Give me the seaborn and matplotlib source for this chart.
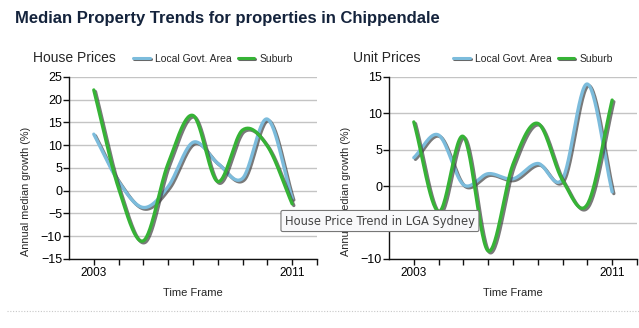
import numpy as np
import pandas as pd
import matplotlib
matplotlib.use("Agg")
import matplotlib.pyplot as plt
import matplotlib.patheffects as pe
from matplotlib.lines import Line2D
import seaborn as sns

years = [2003, 2004, 2005, 2006, 2007, 2008, 2009, 2010, 2011]
house_lga = [12.4, 2.0, -3.7, 0.9, 10.6, 6.0, 2.7, 15.7, -1.7]
house_suburb = [22.1, 0.5, -11.0, 6.0, 16.5, 2.0, 13.3, 9.8, -2.9]
unit_lga = [3.9, 7.0, 0.2, 1.7, 1.0, 3.1, 1.0, 14.0, -0.8]
unit_suburb = [8.8, -3.5, 6.8, -8.9, 3.0, 8.6, 0.8, -2.5, 11.8]
series_names = ["Local Govt. Area", "Suburb"]
panel_titles = ["House Prices", "Unit Prices"]
title = "Median Property Trends for properties in Chippendale"
tooltip = "House Price Trend in LGA Sydney"

C_LGA = "#7cbcdc"
C_SUB = "#36b336"


def spline(xs, ys, n=30, tension=0.5):
    """Cardinal spline through the data points (display smoothing only)."""
    xs = np.asarray(xs, float)
    ys = np.asarray(ys, float)
    px = np.concatenate([[2 * xs[0] - xs[1]], xs, [2 * xs[-1] - xs[-2]]])
    py = np.concatenate([[2 * ys[0] - ys[1]], ys, [2 * ys[-1] - ys[-2]]])
    ox, oy = [], []
    t = np.linspace(0, 1, n, endpoint=False)
    for i in range(1, len(px) - 2):
        m1x = tension * (px[i + 1] - px[i - 1]); m2x = tension * (px[i + 2] - px[i])
        m1y = tension * (py[i + 1] - py[i - 1]); m2y = tension * (py[i + 2] - py[i])
        h00 = 2 * t**3 - 3 * t**2 + 1; h10 = t**3 - 2 * t**2 + t
        h01 = -2 * t**3 + 3 * t**2; h11 = t**3 - t**2
        ox.append(h00 * px[i] + h10 * m1x + h01 * px[i + 1] + h11 * m2x)
        oy.append(h00 * py[i] + h10 * m1y + h01 * py[i + 1] + h11 * m2y)
    ox.append([xs[-1]]); oy.append([ys[-1]])
    return np.concatenate(ox), np.concatenate(oy)


sns.set_theme(style="white")
plt.rcParams["font.family"] = ["Liberation Sans", "DejaVu Sans"]

fig = plt.figure(figsize=(6.39, 3.28), dpi=100)
fig.patch.set_facecolor("white")

panels = [
    (house_lga, house_suburb, (-15, 25), [0.108, 0.2104, 0.388, 0.5556]),
    (unit_lga, unit_suburb, (-10, 15), [0.6088, 0.2104, 0.3880, 0.5556]),
]

shadow = [pe.SimpleLineShadow(offset=(1.2, -1.2), shadow_color="#404040", alpha=0.7), pe.Normal()]
shadow_leg = [pe.SimpleLineShadow(offset=(0.8, -0.8), shadow_color="#404040", alpha=0.8), pe.Normal()]

for k, (lga, sub, ylim, rect) in enumerate(panels):
    ax = fig.add_axes(rect)
    for vals, name, col in [(lga, series_names[0], C_LGA), (sub, series_names[1], C_SUB)]:
        sx, sy = spline(years, vals)
        df = pd.DataFrame({"x": sx, "y": sy})
        sns.lineplot(data=df, x="x", y="y", ax=ax, color=col, lw=2.4, sort=False,
                     estimator=None, path_effects=shadow, zorder=3)
    ax.set_xlim(2002, 2012)
    ax.set_ylim(*ylim)
    ax.set_yticks(np.arange(ylim[0], ylim[1] + 1, 5))
    ax.set_xticks(range(2003, 2013))
    ax.set_xticklabels(["2003" if y == 2003 else "2011" if y == 2011 else "" for y in range(2003, 2013)])
    ax.yaxis.grid(True, color="#c4c4c4", lw=1)
    ax.xaxis.grid(False)
    for s in ["top", "right"]:
        ax.spines[s].set_visible(False)
    for s in ["left", "bottom"]:
        ax.spines[s].set_color("#111111")
        ax.spines[s].set_linewidth(1)
    ax.tick_params(axis="y", direction="out", length=4, width=1, color="#111111",
                   labelsize=9, pad=1, labelcolor="black", left=True)
    ax.tick_params(axis="x", direction="out", length=4, width=1, color="#111111",
                   labelsize=8.5, pad=2, labelcolor="black", bottom=True)
    ax.set_xlabel("Time Frame", fontsize=8, labelpad=6)
    ax.set_ylabel("Annual median growth (%)", fontsize=7.8, labelpad=2)
    ax.yaxis.set_label_coords(-0.155, 0.373)
    x0 = rect[0]
    fig.text(x0 - 0.057, 1 - 58 / 328, panel_titles[k], fontsize=10, va="center", ha="left")
    handles = [Line2D([], [], color=C_LGA, lw=2.2, path_effects=shadow_leg),
               Line2D([], [], color=C_SUB, lw=2.2, path_effects=shadow_leg)]
    fig.legend(handles, series_names, loc="center left",
               bbox_to_anchor=(x0 + 0.1, 1 - 59 / 328), frameon=False, ncol=2,
               fontsize=7.5, handlelength=1.6, handletextpad=0.5, columnspacing=0.6,
               borderpad=0, borderaxespad=0)

fig.text(15 / 639, 1 - 19 / 328, title, fontsize=12, fontweight="bold",
         color="#14233c", va="center", ha="left")

fig.text(285 / 639, 1 - 221 / 328, tooltip, fontsize=8.3, family="DejaVu Sans",
         color="#444444", va="center", ha="left", zorder=10,
         bbox=dict(boxstyle="round,pad=0.35,rounding_size=0.15", fc="#f8f8fa", ec="#777777", lw=0.8))

fig.add_artist(Line2D([7 / 639, 1], [1 - 311 / 328] * 2, color="#c8c8c8", lw=0.8,
                      ls=(0, (1, 1.5)), transform=fig.transFigure))

fig.savefig("out.png", dpi=100)
